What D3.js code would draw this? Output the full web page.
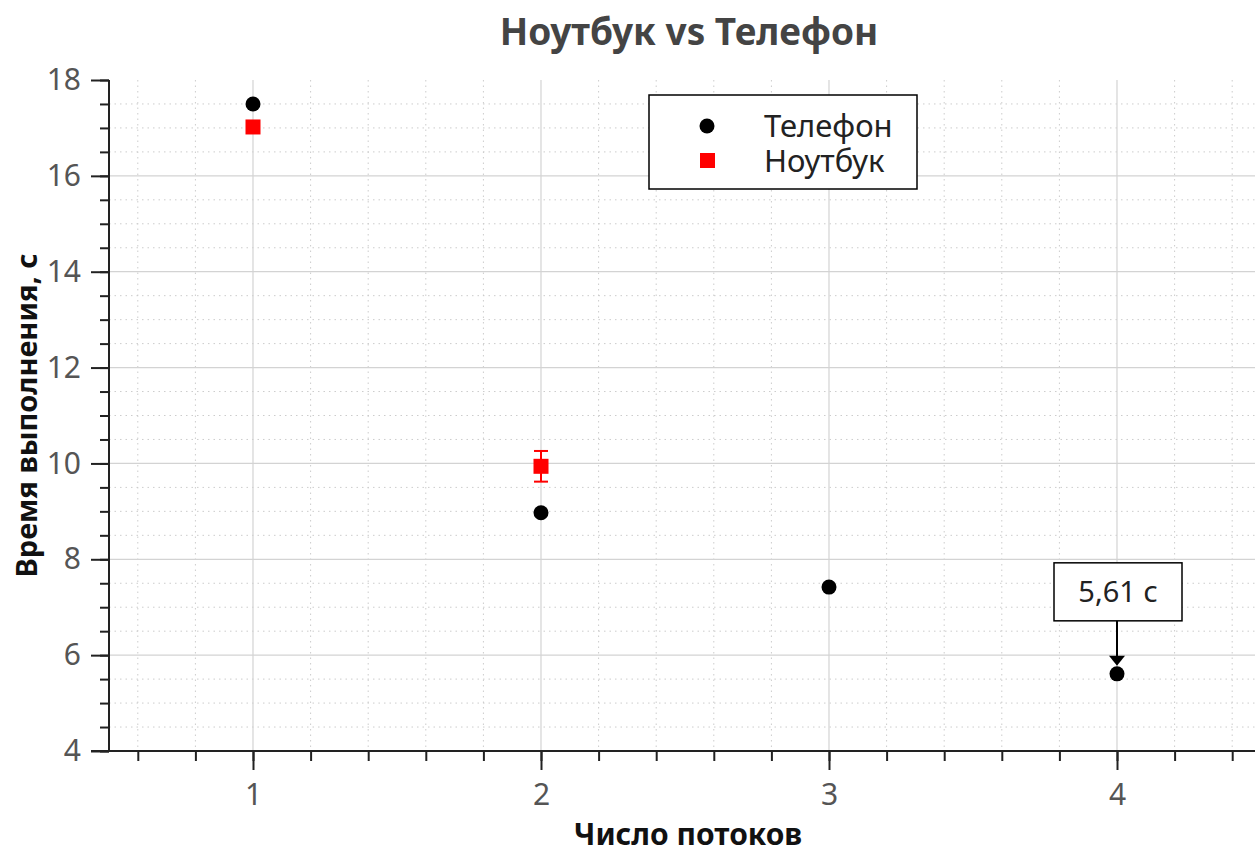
<!DOCTYPE html>
<html>
<head>
<meta charset="utf-8">
<script src="https://cdn.jsdelivr.net/npm/d3@7"></script>
<style>
  body { margin: 0; background: #fff; }
  text { font-family: "Noto Sans", sans-serif; }
</style>
</head>
<body>
<div id="chart"></div>
<script>
// data
const threads = [1, 2, 3, 4];
const phoneTimes = [17.5, 8.97, 7.42, 5.61];
const laptopThreads = [1, 2];
const laptopTimes = [17.02, 9.94];
const laptopErrors = [0, 0.32];
const yTicks = [4, 6, 8, 10, 12, 14, 16, 18];
const seriesNames = ["Телефон", "Ноутбук"];
const noteText = "5,61 с";

const width = 1255;
const height = 851;
const plotLeft = 109, plotRight = 1261, plotTop = 80, plotBottom = 751;

const svg = d3.select("#chart").append("svg")
    .attr("width", width).attr("height", height);

const x = d3.scaleLinear().domain([0.5, 4.5]).range([plotLeft, plotRight]);
const y = d3.scaleLinear().domain([4, 18]).range([plotBottom, plotTop]);

const xMinor = d3.range(0.6, 4.5, 0.2).map(v => +v.toFixed(1));
const yMinor = d3.range(4, 18.01, 0.5);

// minor grid (dotted)
const grid = svg.append("g");
grid.selectAll(".mx").data(xMinor.filter(v => !threads.includes(v)))
  .join("line")
    .attr("x1", d => x(d)).attr("x2", d => x(d))
    .attr("y1", plotTop).attr("y2", plotBottom)
    .attr("stroke", "#ccc").attr("stroke-dasharray", "1.5,4");
grid.selectAll(".my").data(yMinor.filter(v => !yTicks.includes(v)))
  .join("line")
    .attr("x1", plotLeft).attr("x2", width)
    .attr("y1", d => y(d)).attr("y2", d => y(d))
    .attr("stroke", "#ccc").attr("stroke-dasharray", "1.5,4");

// major grid
grid.selectAll(".gx").data(threads)
  .join("line")
    .attr("x1", d => x(d)).attr("x2", d => x(d))
    .attr("y1", plotTop).attr("y2", plotBottom)
    .attr("stroke", "#d3d3d3").attr("stroke-width", 1.2);
grid.selectAll(".gy").data(yTicks.slice(1, -1))
  .join("line")
    .attr("x1", plotLeft).attr("x2", width)
    .attr("y1", d => y(d)).attr("y2", d => y(d))
    .attr("stroke", "#d3d3d3").attr("stroke-width", 1.2);

// axes
const xAxisMinor = d3.axisBottom(x).tickValues(xMinor).tickSize(10).tickFormat("");
const xAxis = d3.axisBottom(x).tickValues(threads).tickSize(19).tickPadding(14).tickFormat(d3.format("d"));
const yAxisMinor = d3.axisLeft(y).tickValues(yMinor).tickSize(9).tickFormat("");
const yAxis = d3.axisLeft(y).tickValues(yTicks).tickSize(18).tickPadding(10).tickFormat(d3.format("d"));

function styleAxis(g) {
  g.select(".domain").remove();
  g.selectAll("line").attr("stroke", "#222").attr("stroke-width", 2);
  g.selectAll("text").attr("fill", "#555").style("font-size", "30px");
}

svg.append("g").attr("transform", `translate(0,${plotBottom})`).call(xAxisMinor).call(styleAxis);
svg.append("g").attr("transform", `translate(0,${plotBottom})`).call(xAxis).call(styleAxis);
svg.append("g").attr("transform", `translate(${plotLeft},0)`).call(yAxisMinor).call(styleAxis);
svg.append("g").attr("transform", `translate(${plotLeft},0)`).call(yAxis).call(styleAxis);

svg.append("line").attr("x1", 91).attr("x2", width).attr("y1", plotBottom).attr("y2", plotBottom)
  .attr("stroke", "#222").attr("stroke-width", 2);
svg.append("line").attr("x1", plotLeft).attr("x2", plotLeft).attr("y1", plotTop).attr("y2", plotBottom)
  .attr("stroke", "#222").attr("stroke-width", 2);

// error bars for laptop
const laptop = laptopThreads.map((t, i) => ({ t, v: laptopTimes[i], e: laptopErrors[i] }));
const eb = svg.append("g").selectAll("g").data(laptop.filter(d => d.e > 0)).join("g")
  .attr("stroke", "#ff0000").attr("stroke-width", 2);
eb.append("line").attr("x1", d => x(d.t)).attr("x2", d => x(d.t))
  .attr("y1", d => y(d.v + d.e)).attr("y2", d => y(d.v - d.e));
eb.append("line").attr("x1", d => x(d.t) - 7).attr("x2", d => x(d.t) + 7)
  .attr("y1", d => y(d.v + d.e)).attr("y2", d => y(d.v + d.e));
eb.append("line").attr("x1", d => x(d.t) - 7).attr("x2", d => x(d.t) + 7)
  .attr("y1", d => y(d.v - d.e)).attr("y2", d => y(d.v - d.e));

// points
svg.append("g").selectAll("rect").data(laptop).join("rect")
  .attr("x", d => x(d.t) - 7.5).attr("y", d => y(d.v) - 7.5)
  .attr("width", 15).attr("height", 15).attr("fill", "#ff0000");

svg.append("g").selectAll("circle").data(threads.map((t, i) => ({ t, v: phoneTimes[i] }))).join("circle")
  .attr("cx", d => x(d.t)).attr("cy", d => y(d.v)).attr("r", 7.5).attr("fill", "#000");

// annotation
const nx = x(threads[3]), ny = y(phoneTimes[3]);
svg.append("line").attr("x1", nx).attr("x2", nx).attr("y1", ny - 53).attr("y2", ny - 17)
  .attr("stroke", "#000").attr("stroke-width", 2);
svg.append("path")
  .attr("d", `M${nx - 8},${ny - 18}L${nx + 8},${ny - 18}L${nx},${ny - 8}Z`)
  .attr("fill", "#000");
svg.append("rect").attr("x", nx - 63).attr("y", ny - 111).attr("width", 128).attr("height", 58)
  .attr("fill", "#fff").attr("stroke", "#000").attr("stroke-width", 1.5);
svg.append("text").attr("x", nx + 1).attr("y", ny - 72).attr("text-anchor", "middle")
  .attr("fill", "#222").style("font-size", "29px").text(noteText);

// legend
const lg = svg.append("g").attr("transform", "translate(649,95)");
lg.append("rect").attr("width", 268).attr("height", 94)
  .attr("fill", "#fff").attr("stroke", "#000").attr("stroke-width", 1.5);
lg.append("circle").attr("cx", 58).attr("cy", 31).attr("r", 7.5).attr("fill", "#000");
lg.append("rect").attr("x", 51).attr("y", 58).attr("width", 15).attr("height", 15).attr("fill", "#ff0000");
lg.selectAll("text.l").data(seriesNames).join("text")
  .attr("x", 115).attr("y", (d, i) => 42 + i * 35)
  .attr("fill", "#222").style("font-size", "31px").text(d => d);

// titles
svg.append("text").attr("x", 689).attr("y", 45).attr("text-anchor", "middle")
  .attr("fill", "#444").style("font-size", "37px").style("font-weight", "bold")
  .text("Ноутбук vs Телефон");
svg.append("text").attr("x", 688).attr("y", 845).attr("text-anchor", "middle")
  .attr("fill", "#111").style("font-size", "30px").style("font-weight", "bold")
  .text("Число потоков");
svg.append("text").attr("transform", `translate(37,${(plotTop + plotBottom) / 2}) rotate(-90)`)
  .attr("text-anchor", "middle")
  .attr("fill", "#111").style("font-size", "29px").style("font-weight", "bold")
  .text("Время выполнения, с");
</script>
</body>
</html>
